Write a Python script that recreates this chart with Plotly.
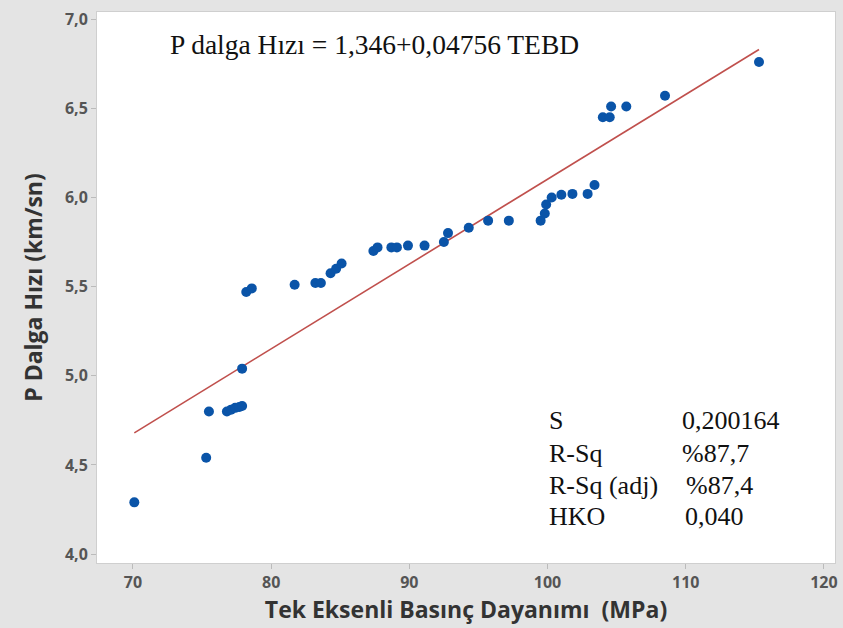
import plotly.graph_objects as go

# Data
tebd = [70.1, 75.3, 75.5, 76.8, 77.1, 77.4, 77.7, 77.9, 77.9, 78.2, 78.6,
        81.7, 83.2, 83.6, 84.3, 84.7, 85.1, 87.4, 87.7, 88.7, 89.1, 89.9,
        91.1, 92.5, 92.8, 94.3, 95.7, 97.2, 99.5, 99.8, 99.9, 100.3, 101.0,
        101.8, 102.9, 103.4, 104.0, 104.5, 104.6, 105.7, 108.5, 115.3]
p_hiz = [4.29, 4.54, 4.80, 4.80, 4.81, 4.82, 4.825, 4.83, 5.04, 5.47, 5.49,
         5.51, 5.52, 5.52, 5.575, 5.60, 5.63, 5.70, 5.72, 5.72, 5.72, 5.73,
         5.73, 5.75, 5.80, 5.83, 5.87, 5.87, 5.87, 5.91, 5.96, 6.00, 6.015,
         6.02, 6.02, 6.07, 6.45, 6.45, 6.51, 6.51, 6.57, 6.76]

intercept = 1.346
slope = 0.04756
fit_x = [min(tebd), max(tebd)]
fit_y = [intercept + slope * v for v in fit_x]

stat_labels = ["S", "R-Sq", "R-Sq (adj)", "HKO"]
stat_values = ["0,200164", "%87,7", "%87,4", "0,040"]

x_ticks = [70, 80, 90, 100, 110, 120]
y_ticks = [4.0, 4.5, 5.0, 5.5, 6.0, 6.5, 7.0]

fig = go.Figure()
fig.add_trace(go.Scatter(x=fit_x, y=fit_y, mode="lines",
                         line=dict(color="#C0504D", width=1.6),
                         showlegend=False, hoverinfo="skip"))
fig.add_trace(go.Scatter(x=tebd, y=p_hiz, mode="markers",
                         marker=dict(color="#0A54A8", size=10),
                         showlegend=False))

serif = "Liberation Serif, Times New Roman, serif"
sans = "Open Sans, DejaVu Sans, sans-serif"

# plot area: x 97..838, y 12..563 (height 551, width 741)
def px_to_paper_y(py):
    return (563 - py) / 551

def px_to_paper_x(px):
    return (px - 97) / 741

fig.add_annotation(x=px_to_paper_x(168), y=px_to_paper_y(45), xref="paper", yref="paper",
                   text="P dalga Hızı = 1,346+0,04756 TEBD", showarrow=False,
                   xanchor="left", yanchor="middle",
                   font=dict(family=serif, size=27.5, color="#111"))

row_y = [420, 453, 485, 516]
val_x = [682, 682, 686, 685]
for lab, val, yy, vx in zip(stat_labels, stat_values, row_y, val_x):
    fig.add_annotation(x=px_to_paper_x(549), y=px_to_paper_y(yy), xref="paper", yref="paper",
                       text=lab, showarrow=False, xanchor="left", yanchor="middle",
                       font=dict(family=serif, size=26, color="#111"))
    fig.add_annotation(x=px_to_paper_x(vx), y=px_to_paper_y(yy), xref="paper", yref="paper",
                       text=val, showarrow=False, xanchor="left", yanchor="middle",
                       font=dict(family=serif, size=26, color="#111"))

fig.update_layout(
    width=843, height=628,
    margin=dict(l=97, r=5, t=12, b=65),
    paper_bgcolor="#E4E4E4",
    plot_bgcolor="white",
    separators=",.",
    xaxis=dict(range=[67.4, 120.8], tickvals=x_ticks, showgrid=False,
               zeroline=False, ticks="outside", ticklen=5, tickcolor="#bbb",
               showline=True, linecolor="#cfcfcf", mirror=True,
               tickfont=dict(family=sans, size=16, color="#555", weight="bold"),
               title=dict(text="Tek Eksenli Basınç Dayanımı  (MPa)",
                          font=dict(family=sans, size=23, color="#333", weight="bold"),
                          standoff=2)),
    yaxis=dict(range=[3.95, 7.04], tickvals=y_ticks, tickformat=".1f",
               showgrid=False, zeroline=False, ticks="outside", ticklen=5,
               tickcolor="#bbb", showline=True, linecolor="#cfcfcf", mirror=True,
               tickfont=dict(family=sans, size=16, color="#555", weight="bold"),
               title=dict(text="P Dalga Hızı (km/sn)",
                          font=dict(family=sans, size=23, color="#333", weight="bold"),
                          standoff=15)),
)

fig.write_html("out.html")
